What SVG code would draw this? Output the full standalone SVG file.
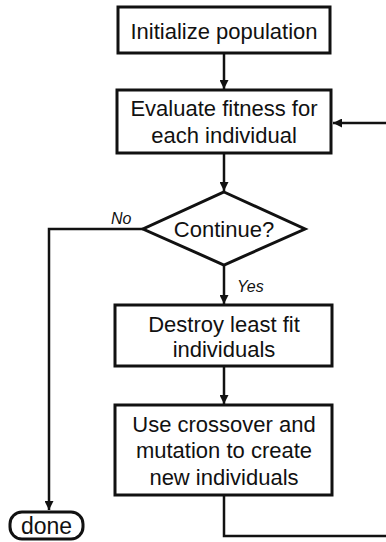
<svg xmlns="http://www.w3.org/2000/svg" width="386" height="542" viewBox="0 0 386 542">
  <style>
    .box { fill: #fff; stroke: #111; stroke-width: 3; }
    .lbl { font-family: "Liberation Sans", Arial, sans-serif; font-size: 22px; fill: #111; text-anchor: middle; }
    .tag { font-family: "Liberation Sans", Arial, sans-serif; font-size: 16px; font-style: italic; fill: #111; }
    .wire { fill: none; stroke: #111; stroke-width: 2.5; }
  </style>
  <defs>
    <marker id="arrow" viewBox="0 0 10 10" refX="10" refY="5" markerWidth="4" markerHeight="3.6" orient="auto" markerUnits="strokeWidth">
      <path d="M0,0 L10,5 L0,10 z" fill="#111"/>
    </marker>
  </defs>
  <rect width="386" height="542" fill="#fff"/>

  <g id="connectors">
    <path class="wire" d="M224,53 V89" marker-end="url(#arrow)"/>
    <path class="wire" d="M224,153 V191" marker-end="url(#arrow)"/>
    <path class="wire" d="M224,265 V304" marker-end="url(#arrow)"/>
    <path class="wire" d="M224,366 V404" marker-end="url(#arrow)"/>
    <path class="wire" d="M143,229 H49 V510" marker-end="url(#arrow)"/>
    <path class="wire" d="M224,495 V536 H400 V123 H333" marker-end="url(#arrow)"/>
    <text class="tag" x="111" y="224">No</text>
    <text class="tag" x="237" y="292">Yes</text>
  </g>

  <g id="init">
    <rect class="box" x="118" y="7" width="212" height="46"/>
    <text class="lbl" x="224" y="39">Initialize population</text>
  </g>

  <g id="evaluate">
    <rect class="box" x="117" y="90" width="214" height="63"/>
    <text class="lbl" x="224" y="116">Evaluate fitness for</text>
    <text class="lbl" x="224" y="143">each individual</text>
  </g>

  <g id="continue">
    <polygon class="box" points="224,192 305,229 224,265 143,229"/>
    <text class="lbl" x="224" y="237">Continue?</text>
  </g>

  <g id="destroy">
    <rect class="box" x="115" y="305" width="217" height="61"/>
    <text class="lbl" x="224" y="332">Destroy least fit</text>
    <text class="lbl" x="224" y="357">individuals</text>
  </g>

  <g id="breed">
    <rect class="box" x="115" y="405" width="217" height="90"/>
    <text class="lbl" x="224" y="432">Use crossover and</text>
    <text class="lbl" x="224" y="458">mutation to create</text>
    <text class="lbl" x="224" y="485">new individuals</text>
  </g>

  <g id="done">
    <rect class="box" x="10" y="512" width="73" height="27" rx="12" ry="12"/>
    <text class="lbl" x="46.5" y="534" style="font-size:23px">done</text>
  </g>
</svg>
